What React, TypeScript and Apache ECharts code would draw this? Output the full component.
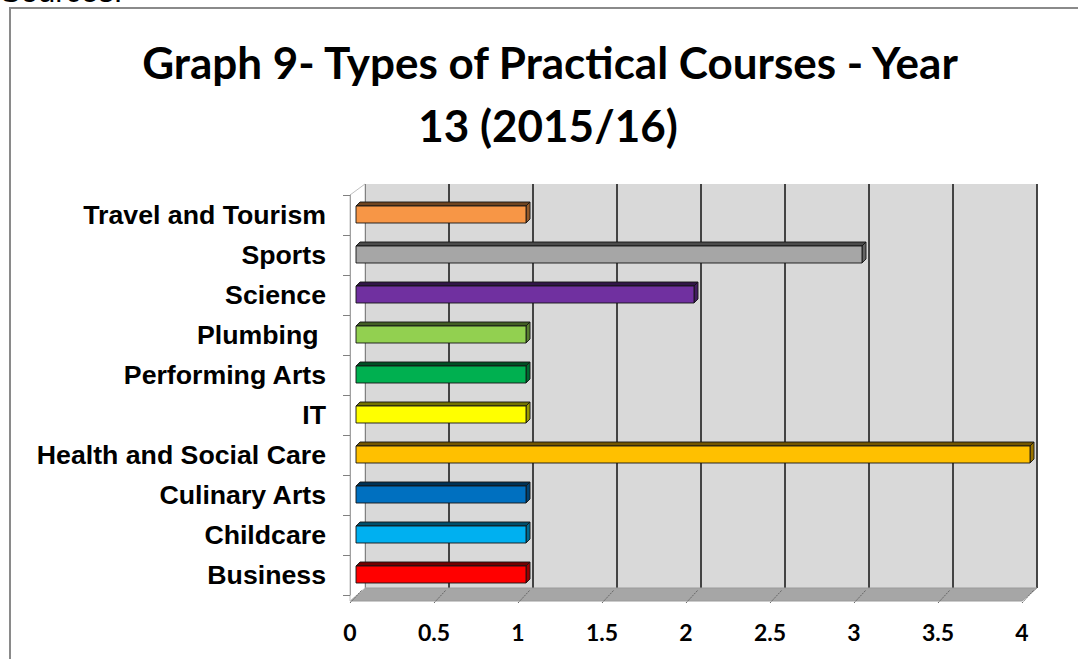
import React, { useEffect, useRef } from "react";
import * as echarts from "echarts";

const categories = [
  "Business",
  "Childcare",
  "Culinary Arts",
  "Health and Social Care",
  "IT",
  "Performing Arts",
  "Plumbing ",
  "Science",
  "Sports",
  "Travel and Tourism",
];
const courseCounts = [1, 1, 1, 4, 1, 1, 1, 2, 3, 1];
const xTicks = [0, 0.5, 1, 1.5, 2, 2.5, 3, 3.5, 4];
const barColors = [
  "#ff0000",
  "#00b0f0",
  "#0070c0",
  "#ffc000",
  "#ffff00",
  "#00b050",
  "#92d050",
  "#7030a0",
  "#a6a6a6",
  "#f79646",
];
const titleLines = ["Graph 9- Types of Practical Courses - Year", "13 (2015/16)"];

const GL = 350;
const GT = 195;
const GW = 672;
const GH = 400;
const DX = 15;
const BACK_TOP = 184;
const BACK_BOTTOM = 588;
const FLOOR_FRONT = 601;

function shade(hex: string, f: number): string {
  const n = parseInt(hex.slice(1), 16);
  const r = Math.round(((n >> 16) & 255) * f);
  const g = Math.round(((n >> 8) & 255) * f);
  const b = Math.round((n & 255) * f);
  return `rgb(${r},${g},${b})`;
}

export default function App() {
  const ref = useRef<HTMLDivElement>(null);
  useEffect(() => {
    if (!ref.current) return;
    const chart = echarts.init(ref.current, undefined, { renderer: "svg" });

    const renderBar = (params: any, api: any) => {
      const v = api.value(0);
      const c = api.value(1);
      const p0 = api.coord([0, c]);
      const p1 = api.coord([v, c]);
      const bh = 17;
      const x0 = p0[0] + 6;
      const x1 = p1[0] + 8;
      const yc = p0[1] - 0.5;
      const yt = yc - bh / 2;
      const yb = yc + bh / 2;
      const d = 4;
      const col = barColors[params.dataIndex];
      const line = "rgba(20,20,20,0.9)";
      return {
        type: "group",
        children: [
          {
            type: "polygon",
            shape: { points: [[x0, yt], [x1, yt], [x1 + d, yt - d], [x0 + d, yt - d]] },
            style: { fill: shade(col, 0.45), stroke: line, lineWidth: 1 },
          },
          {
            type: "polygon",
            shape: { points: [[x1, yt], [x1 + d, yt - d], [x1 + d, yb - d], [x1, yb]] },
            style: { fill: shade(col, 0.6), stroke: line, lineWidth: 1 },
          },
          {
            type: "rect",
            shape: { x: x0, y: yt, width: x1 - x0, height: bh },
            style: { fill: col, stroke: line, lineWidth: 1 },
          },
        ],
      };
    };

    const renderTick = (params: any, api: any) => {
      const t = api.value(0);
      const p = api.coord([t, 0]);
      return {
        type: "line",
        shape: { x1: p[0], y1: FLOOR_FRONT + 2, x2: p[0] + 12, y2: BACK_BOTTOM + 2 },
        style: { stroke: "#666", lineWidth: 1, lineDash: [2, 1] },
      };
    };

    chart.setOption({
      animation: false,
      backgroundColor: "#ffffff",
      grid: [
        { left: GL, top: GT, width: GW, height: GH, containLabel: false, z: 2 },
        {
          left: GL + DX,
          top: BACK_TOP,
          width: GW,
          height: BACK_BOTTOM - BACK_TOP,
          show: true,
          backgroundColor: "#d9d9d9",
          borderWidth: 0,
          z: 0,
        },
      ],
      xAxis: [
        {
          gridIndex: 0,
          type: "value",
          min: 0,
          max: 4,
          interval: 0.5,
          z: 2,
          axisLine: { show: false },
          axisTick: { show: false },
          splitLine: { show: false },
          axisLabel: {
            margin: 25,
            fontSize: 23,
            fontWeight: "bold",
            fontFamily: "Lato",
            color: "#000",
          },
        },
        {
          gridIndex: 1,
          type: "value",
          min: 0,
          max: 4,
          interval: 0.5,
          z: 0,
          axisLine: { show: false },
          axisTick: { show: false },
          axisLabel: { show: false },
          splitLine: { show: true, lineStyle: { color: "#333333", width: 1.8 } },
        },
      ],
      yAxis: [
        {
          gridIndex: 0,
          type: "category",
          data: categories,
          z: 3,
          axisLine: { show: true, lineStyle: { color: "#a0a0a0", width: 1 } },
          axisTick: { show: true, length: 7, lineStyle: { color: "#808080" } },
          splitLine: { show: false },
          axisLabel: {
            margin: 24,
            fontSize: 26.7,
            fontWeight: "bold",
            fontFamily: "Liberation Sans",
            color: "#000",
          },
        },
        {
          gridIndex: 1,
          type: "category",
          data: categories,
          show: false,
        },
      ],
      graphic: [
        {
          type: "text",
          left: 0,
          top: -24,
          z: 10,
          style: { text: "Sources:", fontSize: 31, fontFamily: "Liberation Sans", fill: "#000" },
        },
        {
          type: "rect",
          z: 10,
          shape: { x: 10, y: 8, width: 1200, height: 800 },
          style: { fill: "none", stroke: "#8a8a8a", lineWidth: 2 },
          silent: true,
        },
        {
          type: "text",
          z: 10,
          x: 550,
          y: 40,
          style: {
            text: titleLines[0],
            fontSize: 44,
            fontWeight: "bold",
            fontFamily: "Lato",
            fill: "#000",
            align: "center",
            verticalAlign: "top",
          },
        },
        {
          type: "text",
          z: 10,
          x: 548,
          y: 103,
          style: {
            text: titleLines[1],
            fontSize: 44,
            fontWeight: "bold",
            fontFamily: "Lato",
            fill: "#000",
            align: "center",
            verticalAlign: "top",
          },
        },
        {
          type: "polygon",
          z: 1,
          shape: {
            points: [
              [GL, FLOOR_FRONT],
              [GL + GW, FLOOR_FRONT],
              [GL + GW + DX, BACK_BOTTOM],
              [GL + DX, BACK_BOTTOM],
            ],
          },
          style: { fill: "#a6a6a6", stroke: "#9a9a9a", lineWidth: 1 },
        },
        {
          type: "polygon",
          z: 1,
          shape: {
            points: [
              [GL, GT],
              [GL + DX, BACK_TOP],
              [GL + DX, BACK_BOTTOM],
              [GL, FLOOR_FRONT],
            ],
          },
          style: { fill: "#ffffff", stroke: "#c0c0c0", lineWidth: 1 },
        },
      ],
      series: [
        {
          type: "custom",
          xAxisIndex: 0,
          yAxisIndex: 0,
          z: 5,
          renderItem: renderBar,
          encode: { x: 0, y: 1 },
          data: courseCounts.map((v, i) => [v, i]),
        },
        {
          type: "custom",
          xAxisIndex: 0,
          yAxisIndex: 0,
          z: 3,
          renderItem: renderTick,
          encode: { x: 0, y: 1 },
          data: xTicks.map((t) => [t, 0]),
        },
      ],
    });
    return () => chart.dispose();
  }, []);
  return (
    <div
      ref={ref}
      style={{ position: "absolute", left: 0, top: 0, width: 1078, height: 659 }}
    />
  );
}
